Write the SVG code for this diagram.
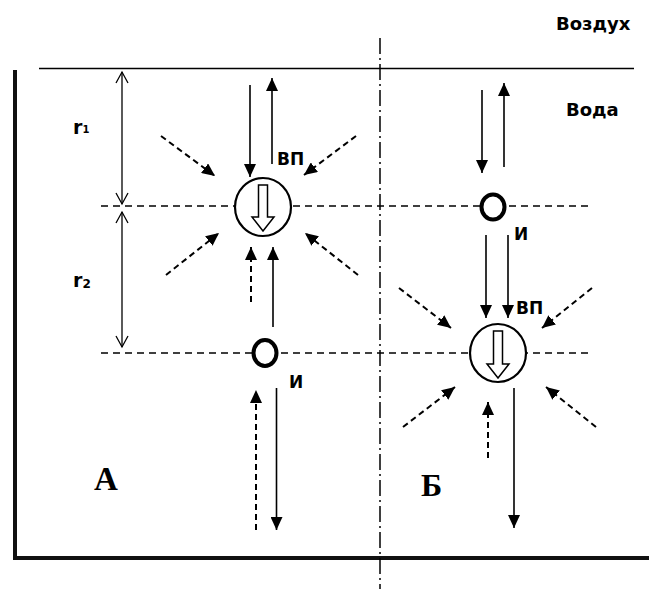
<svg xmlns="http://www.w3.org/2000/svg" width="649" height="589" viewBox="0 0 649 589">
<defs>
<marker id="ah" markerUnits="userSpaceOnUse" markerWidth="14" markerHeight="12" refX="13" refY="6" orient="auto"><path d="M0,0 L13,6 L0,12 z" fill="#000"/></marker>
<marker id="oa" markerUnits="userSpaceOnUse" markerWidth="14" markerHeight="14" refX="12" refY="7" orient="auto-start-reverse"><path d="M1,1 L12,7 L1,13" fill="none" stroke="#000" stroke-width="1.3"/></marker>
</defs>
<style>
.frame{fill:none;stroke:#111;stroke-width:4}
.line{stroke:#000;stroke-width:1.6;fill:none}
.hd{stroke:#000;stroke-width:1.5;stroke-dasharray:7 5;fill:none}
.dd{stroke:#000;stroke-width:1.5;stroke-dasharray:16 4 2 4;fill:none}
.sa{stroke:#000;stroke-width:1.6;fill:none;marker-end:url(#ah)}
.da{stroke:#000;stroke-width:2;stroke-dasharray:6 4;fill:none;marker-end:url(#ah)}
.dim{stroke:#000;stroke-width:1.3;fill:none;marker-start:url(#oa);marker-end:url(#oa)}
.big{fill:#fff;stroke:#000;stroke-width:2.2}
.small{fill:#fff;stroke:#000;stroke-width:4}
.hollow{fill:#fff;stroke:#000;stroke-width:1.5;stroke-linejoin:miter}
.t{font-family:"DejaVu Sans","Open Sans",sans-serif;font-weight:bold;fill:#000}
.s{font-family:"Liberation Serif","Times New Roman",serif;font-weight:bold;fill:#000}
</style>
<g id="frame">
<path class="frame" d="M15,70 V558 H649"/>
<line class="line" x1="39" y1="68.5" x2="634" y2="68.5"/>
<line class="dd" x1="380" y1="38" x2="380" y2="589"/>
<line class="hd" x1="101" y1="206" x2="588" y2="206"/>
<line class="hd" x1="101" y1="353" x2="588" y2="353"/>
</g>
<g id="labels">
<text class="t" x="556" y="30" font-size="18">Воздух</text>
<text class="t" x="566" y="116" font-size="18">Вода</text>
<text class="t" x="73" y="134" font-size="19">r<tspan font-size="10" dy="-1">1</tspan></text>
<text class="t" x="73" y="287" font-size="19">r<tspan font-size="12" dy="1">2</tspan></text>
<text class="s" x="94" y="490" font-size="33">А</text>
<text class="s" x="421" y="496" font-size="32">Б</text>
</g>
<g id="connectors">
<line class="dim" x1="122" y1="72" x2="122" y2="204"/>
<line class="dim" x1="122" y1="212" x2="122" y2="347"/>
<line class="sa" x1="250" y1="85" x2="250" y2="177"/>
<line class="sa" x1="272" y1="164" x2="272" y2="78"/>
<line class="da" x1="161" y1="136" x2="215" y2="176"/>
<line class="da" x1="356" y1="136" x2="304" y2="175"/>
<line class="da" x1="166" y1="275" x2="219" y2="233"/>
<line class="da" x1="358" y1="275" x2="305" y2="233"/>
<line class="da" x1="251" y1="302" x2="251" y2="247"/>
<line class="sa" x1="273" y1="327" x2="273" y2="247"/>
<line class="da" x1="256" y1="530" x2="256" y2="390"/>
<line class="sa" x1="276.5" y1="388" x2="276.5" y2="530"/>
<line class="sa" x1="482" y1="90" x2="482" y2="173"/>
<line class="sa" x1="504" y1="167" x2="504" y2="83"/>
<line class="sa" x1="486" y1="235" x2="486" y2="318"/>
<line class="sa" x1="508" y1="235" x2="508" y2="318"/>
<line class="da" x1="399" y1="288" x2="451" y2="328"/>
<line class="da" x1="592" y1="288" x2="542" y2="328"/>
<line class="da" x1="403" y1="427" x2="455" y2="387"/>
<line class="da" x1="596" y1="427" x2="546" y2="387"/>
<line class="da" x1="488" y1="458" x2="488" y2="402"/>
<line class="sa" x1="514" y1="388" x2="514" y2="528"/>
</g>
<g id="nodeA-VP">
<ellipse class="big" cx="263" cy="207" rx="28" ry="29"/>
<path class="hollow" d="M258.5,185 H267.5 V217 H274 L263,231 L252,217 H258.5 Z"/>
<text class="t" x="277" y="165" font-size="17">ВП</text>
</g>
<g id="nodeA-I">
<ellipse class="small" cx="265" cy="353" rx="11.5" ry="13"/>
<text class="t" x="289" y="388" font-size="17">И</text>
</g>
<g id="nodeB-I">
<ellipse class="small" cx="493" cy="207" rx="11.5" ry="12.5"/>
<text class="t" x="514" y="240" font-size="17">И</text>
</g>
<g id="nodeB-VP">
<ellipse class="big" cx="498" cy="353" rx="28" ry="29"/>
<path class="hollow" d="M493.5,331 H502.5 V364 H509 L498,378 L487,364 H493.5 Z"/>
<text class="t" x="516" y="314" font-size="17">ВП</text>
</g>
</svg>
